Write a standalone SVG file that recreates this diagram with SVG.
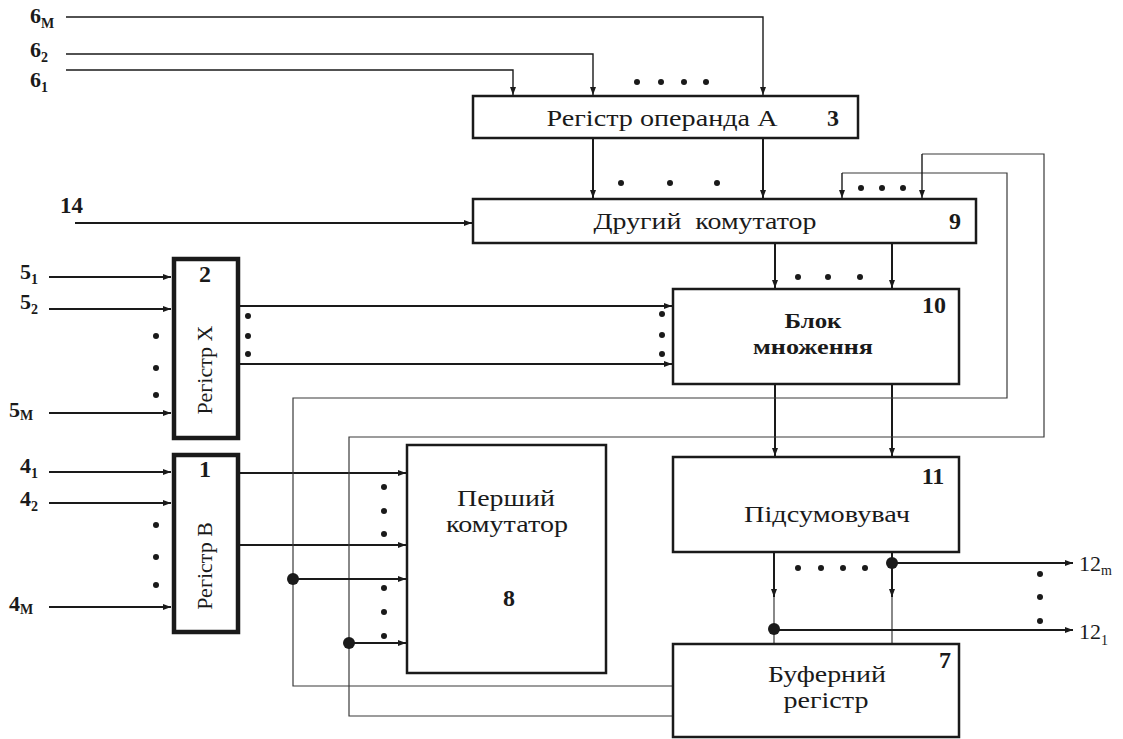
<svg xmlns="http://www.w3.org/2000/svg" width="1123" height="739" viewBox="0 0 1123 739">
<style>
.box{fill:#fff;stroke:#1a1a1a;stroke-width:2.5}
.tbox{fill:#fff;stroke:#1a1a1a;stroke-width:4.5}
.w{fill:none;stroke:#1a1a1a;stroke-width:2}
.t{fill:none;stroke:#1a1a1a;stroke-width:1.4}
.g{fill:none;stroke:#3a3a3a;stroke-width:1.2}
.a{marker-end:url(#arr)}
.d{fill:#1a1a1a}
.txt{font-family:"Liberation Serif","Times New Roman",serif;font-size:23px;fill:#1a1a1a;text-anchor:middle}
.bt{font-family:"Liberation Serif","Times New Roman",serif;font-size:22px;font-weight:bold;fill:#1a1a1a;text-anchor:middle}
.num{font-family:"Liberation Serif","Times New Roman",serif;font-size:24px;font-weight:bold;fill:#1a1a1a;text-anchor:middle}
.lbl{font-family:"Liberation Serif","Times New Roman",serif;font-size:22px;font-weight:bold;fill:#1a1a1a}
.sub{font-size:14px}
.rl{font-family:"Liberation Serif","Times New Roman",serif;font-size:22px;font-weight:normal;fill:#1a1a1a}
</style>
<defs>
<marker id="arr" markerUnits="userSpaceOnUse" markerWidth="8" markerHeight="6" refX="8" refY="3" orient="auto">
<path d="M0,0 L8,3 L0,6 z" fill="#1a1a1a"/>
</marker>
</defs>
<rect width="1123" height="739" fill="#fff"/>

<g id="connectors">
<path class="t a" d="M66,17 H763 V95"/>
<path class="t a" d="M66,54 H593 V95"/>
<path class="t a" d="M66,70 H513 V95"/>
<path class="w a" d="M593,138 V198"/>
<path class="w a" d="M763,138 V198"/>
<path class="w a" d="M75,223 H472"/>
<path class="w a" d="M775,243 V288"/>
<path class="w a" d="M892,243 V288"/>
<path class="w a" d="M775,384 V456"/>
<path class="w a" d="M892,384 V456"/>
<path class="w a" d="M774,552 V597"/>
<path class="g" d="M774,597 V644"/>
<path class="w a" d="M892,552 V597"/>
<path class="g" d="M892,597 V644"/>
<path class="w a" d="M892,563 H1073"/>
<path class="w a" d="M774,630 H1073"/>
<path class="w a" d="M49,277 H171"/>
<path class="w a" d="M49,309 H171"/>
<path class="w a" d="M49,413 H171"/>
<path class="w a" d="M240,306 H672"/>
<path class="w a" d="M240,364 H672"/>
<path class="w a" d="M49,472 H171"/>
<path class="w a" d="M49,503 H171"/>
<path class="w a" d="M49,607 H171"/>
<path class="w a" d="M240,473 H406"/>
<path class="w a" d="M240,545 H406"/>
<path class="g" d="M673,686 H293 V398 H1007 V173 H842"/>
<path class="t a" d="M842,173 V198"/>
<path class="g" d="M673,716 H349 V437 H1044 V154 H922"/>
<path class="t a" d="M922,154 V198"/>
<path class="w a" d="M293,579 H406"/>
<path class="w a" d="M349,643 H406"/>
<ellipse class="d" cx="293" cy="579" rx="6" ry="6"/>
<ellipse class="d" cx="349" cy="643" rx="6" ry="6"/>
<ellipse class="d" cx="892" cy="563" rx="6" ry="6"/>
<ellipse class="d" cx="774" cy="629" rx="6" ry="6"/>
<g class="d">
<circle cx="637" cy="82" r="3"/><circle cx="661" cy="82" r="3"/><circle cx="684" cy="82" r="3"/><circle cx="706" cy="82" r="3"/>
<circle cx="621" cy="183" r="3"/><circle cx="670" cy="183" r="3"/><circle cx="717" cy="183" r="3"/>
<circle cx="861" cy="188" r="3"/><circle cx="882" cy="188" r="3"/><circle cx="903" cy="188" r="3"/>
<circle cx="798" cy="277" r="3"/><circle cx="828" cy="277" r="3"/><circle cx="860" cy="277" r="3"/>
<circle cx="156" cy="336" r="3"/><circle cx="156" cy="368" r="3"/><circle cx="156" cy="395" r="3"/>
<circle cx="248" cy="316" r="3"/><circle cx="248" cy="336" r="3"/><circle cx="248" cy="354" r="3"/>
<circle cx="662" cy="314" r="3"/><circle cx="662" cy="335" r="3"/><circle cx="662" cy="354" r="3"/>
<circle cx="156" cy="525" r="3"/><circle cx="156" cy="557" r="3"/><circle cx="156" cy="585" r="3"/>
<circle cx="384" cy="487" r="3"/><circle cx="384" cy="511" r="3"/><circle cx="384" cy="534" r="3"/>
<circle cx="384" cy="588" r="3"/><circle cx="384" cy="612" r="3"/><circle cx="384" cy="636" r="3"/>
<circle cx="798" cy="568" r="3"/><circle cx="821" cy="568" r="3"/><circle cx="843" cy="568" r="3"/><circle cx="865" cy="568" r="3"/>
<circle cx="1040" cy="574" r="3"/><circle cx="1040" cy="597" r="3"/><circle cx="1040" cy="621" r="3"/>
</g>
</g>

<g id="labels">
<text class="lbl" x="30" y="23">6<tspan class="sub" dy="5">М</tspan></text>
<text class="lbl" x="30" y="57">6<tspan class="sub" dy="5">2</tspan></text>
<text class="lbl" x="30" y="87">6<tspan class="sub" dy="5">1</tspan></text>
<text class="lbl" x="60" y="213" style="font-size:23px">14</text>
<text class="lbl" x="20" y="279">5<tspan class="sub" dy="5">1</tspan></text>
<text class="lbl" x="20" y="309">5<tspan class="sub" dy="5">2</tspan></text>
<text class="lbl" x="9" y="417">5<tspan class="sub" dy="3">М</tspan></text>
<text class="lbl" x="20" y="473">4<tspan class="sub" dy="5">1</tspan></text>
<text class="lbl" x="20" y="506">4<tspan class="sub" dy="5">2</tspan></text>
<text class="lbl" x="9" y="611">4<tspan class="sub" dy="3">М</tspan></text>
<text class="rl" x="1079" y="571">12<tspan class="sub" dy="4">m</tspan></text>
<text class="rl" x="1079" y="639">12<tspan class="sub" dy="6">1</tspan></text>
</g>

<g id="node3">
<rect class="box" x="473" y="96" width="385" height="42"/>
<text class="txt" x="662" y="126" textLength="231" lengthAdjust="spacingAndGlyphs">Регістр операнда А</text>
<text class="num" x="833" y="126">3</text>
</g>

<g id="node9">
<rect class="box" x="473" y="199" width="503" height="44"/>
<text class="txt" x="705" y="229" xml:space="preserve" textLength="223" lengthAdjust="spacingAndGlyphs">Другий  комутатор</text>
<text class="num" x="955" y="229">9</text>
</g>

<g id="node10">
<rect class="box" x="673" y="289" width="286" height="95"/>
<text class="num" x="934" y="313">10</text>
<text class="bt" x="813" y="328" textLength="57" lengthAdjust="spacingAndGlyphs">Блок</text>
<text class="bt" x="813" y="354" textLength="120" lengthAdjust="spacingAndGlyphs">множення</text>
</g>

<g id="node11">
<rect class="box" x="673" y="457" width="286" height="95"/>
<text class="num" x="933" y="484">11</text>
<text class="txt" x="827" y="522" textLength="166" lengthAdjust="spacingAndGlyphs">Підсумовувач</text>
</g>

<g id="node7">
<rect class="box" x="673" y="644" width="286" height="93"/>
<text class="num" x="945" y="668">7</text>
<text class="txt" x="827" y="682" textLength="118" lengthAdjust="spacingAndGlyphs">Буферний</text>
<text class="txt" x="826" y="708" textLength="85" lengthAdjust="spacingAndGlyphs">регістр</text>
</g>

<g id="node8">
<rect class="box" x="407" y="445" width="199" height="228"/>
<text class="txt" x="506" y="506" textLength="98" lengthAdjust="spacingAndGlyphs">Перший</text>
<text class="txt" x="507" y="532" textLength="122" lengthAdjust="spacingAndGlyphs">комутатор</text>
<text class="num" x="509" y="606">8</text>
</g>

<g id="node2">
<rect class="tbox" x="174" y="259" width="64" height="179"/>
<text class="num" x="205" y="282">2</text>
<text class="txt" style="font-size:22px" transform="translate(212,370) rotate(-90)">Регістр X</text>
</g>

<g id="node1">
<rect class="tbox" x="174" y="455" width="64" height="177"/>
<text class="num" x="205" y="477">1</text>
<text class="txt" style="font-size:22px" transform="translate(212,566) rotate(-90)">Регістр В</text>
</g>
</svg>
